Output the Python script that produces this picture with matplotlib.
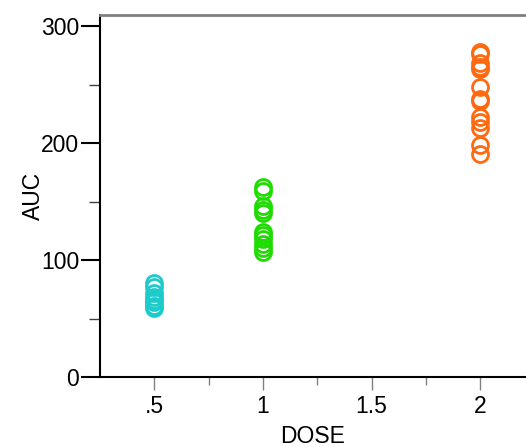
import matplotlib
matplotlib.use('Agg')
import matplotlib.pyplot as plt
from matplotlib.ticker import MultipleLocator, FixedLocator

plt.rcParams['font.family'] = ['Liberation Sans', 'DejaVu Sans']

# dane
dose_05 = [80, 77, 72, 68, 66, 64, 61, 59]
dose_10 = [162, 159, 146, 143, 140, 124, 121, 118, 114, 110, 107]
dose_20 = [278, 276, 268, 265, 263, 248, 238, 236, 222, 218, 213, 198, 191]
groups = [(0.5, dose_05, '#1ecbcb'), (1.0, dose_10, '#1fdc00'), (2.0, dose_20, '#ff6a10')]
xticks = [0.5, 1, 1.5, 2]
xlabels = ['.5', '1', '1.5', '2']

fig = plt.figure(figsize=(5.26, 4.47), dpi=100)
ax = fig.add_axes([0.190, 0.1566, 0.81, 0.8098])

for x, vals, col in groups:
    ax.plot([x] * len(vals), vals, 'o', ms=11.5, mfc='none', mec=col, mew=2)

ax.set_xlim(0.25, 2.21)
ax.set_ylim(0, 309.4)
ax.set_xticks(xticks)
ax.set_xticklabels(xlabels)
ax.xaxis.set_minor_locator(FixedLocator([0.75, 1.25, 1.75]))
ax.set_yticks([0, 100, 200, 300])
ax.yaxis.set_minor_locator(MultipleLocator(50))

ax.tick_params(axis='x', which='major', direction='out', length=9, width=1, color='#808080', labelsize=16.5, pad=4)
ax.tick_params(axis='x', which='minor', direction='out', length=6, width=1, color='#808080')
ax.tick_params(axis='y', which='major', direction='out', length=14, width=1.5, color='black', labelsize=16.5, pad=1)
ax.tick_params(axis='y', which='minor', direction='out', length=8, width=1, color='#404040')

ax.spines['right'].set_visible(False)
ax.spines['top'].set_color('#808080')
ax.spines['top'].set_linewidth(2)
ax.spines['left'].set_linewidth(1.5)
ax.spines['bottom'].set_linewidth(1.5)

ax.set_xlabel('DOSE', fontsize=16.5, labelpad=5)
ax.set_ylabel('AUC', fontsize=16.5, labelpad=-3)

fig.savefig('out.png', dpi=100)
